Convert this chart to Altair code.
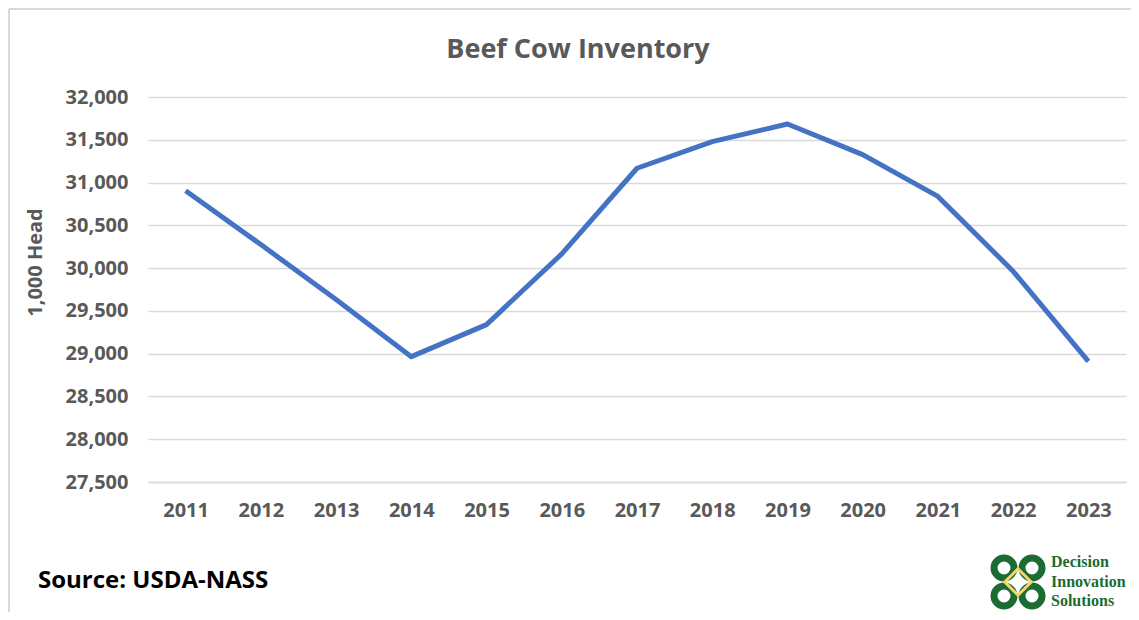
import altair as alt
import pandas as pd

years = ["2011", "2012", "2013", "2014", "2015", "2016", "2017",
         "2018", "2019", "2020", "2021", "2022", "2023"]
inventory = [30905, 30275, 29632, 28965, 29340, 30166, 31167,
             31478, 31685, 31326, 30838, 29963, 28911]
y_ticks = [27500, 28000, 28500, 29000, 29500, 30000, 30500,
           31000, 31500, 32000]

title_text = "Beef Cow Inventory"
y_title = "1,000 Head"
source_text = "Source: USDA-NASS"
logo_lines = ["Decision", "Innovation", "Solutions"]

df = pd.DataFrame({"Year": years, "Inventory": inventory})
one = pd.DataFrame({"k": [0]})

W, H = 978, 385
GRAY = "#595959"
GREEN = "#1b6b32"
FONT = "Open Sans"

line = alt.Chart(df).mark_line(color="#4472C4", strokeWidth=5, strokeJoin="round").encode(
    x=alt.X("Year:O", sort=years,
            scale=alt.Scale(padding=0.5),
            axis=alt.Axis(title=None, labelAngle=0, labelFont=FONT, labelFontSize=20,
                          labelFontWeight="bold", labelColor=GRAY, labelPadding=18,
                          ticks=False, domain=True, domainColor="#d9d9d9",
                          domainWidth=1.5, grid=False)),
    y=alt.Y("Inventory:Q",
            scale=alt.Scale(domain=[27500, 32000], nice=False, zero=False),
            axis=alt.Axis(values=y_ticks, format=",d", title=y_title,
                          titleFont=FONT, titleFontSize=20, titleFontWeight="bold",
                          titleColor=GRAY, titleAngle=270, titleX=-113, titleY=165,
                          titleAlign="center", titleBaseline="middle",
                          labelFont=FONT, labelFontSize=20, labelFontWeight="bold",
                          labelColor=GRAY, labelPadding=20, ticks=False, domain=False,
                          grid=True, gridColor="#d9d9d9", gridWidth=1.5)),
)

title = alt.Chart(one).mark_text(
    text=title_text, font=FONT, fontSize=27, fontWeight="bold", color=GRAY,
    align="center", baseline="alphabetic"
).encode(x=alt.value(430), y=alt.value(-39))

source = alt.Chart(one).mark_text(
    text=source_text, font=FONT, fontSize=24, fontWeight="bold", color="#000000",
    align="left", baseline="alphabetic"
).encode(x=alt.value(-110), y=alt.value(491))

logo_text_layers = []
for i, t in enumerate(logo_lines):
    logo_text_layers.append(
        alt.Chart(one).mark_text(
            text=t, font="Liberation Serif", fontSize=16, fontWeight="bold",
            color=GREEN, align="left", baseline="alphabetic"
        ).encode(x=alt.value(903), y=alt.value(470 + i * 19.5))
    )

ring_layers = []
for (dx, dy) in [(-14, -14), (14, -14), (-14, 14), (14, 14)]:
    ring_layers.append(
        alt.Chart(one).mark_point(shape="circle", filled=False, size=400,
                                  stroke=GREEN, strokeWidth=7, opacity=1).encode(
            x=alt.value(870 + dx), y=alt.value(485 + dy))
    )
ring_layers.append(
    alt.Chart(one).mark_point(shape="diamond", filled=False, size=700,
                              stroke="#f2d66b", strokeWidth=3, opacity=1).encode(
        x=alt.value(870), y=alt.value(485))
)

border_top = alt.Chart(one).mark_rule(color="#d9d9d9", strokeWidth=2).encode(
    x=alt.value(-139), x2=alt.value(W + 5), y=alt.value(-88))
border_left = alt.Chart(one).mark_rule(color="#d9d9d9", strokeWidth=2).encode(
    x=alt.value(-139), y=alt.value(-88), y2=alt.value(H + 130))

chart = alt.layer(
    border_top, border_left, line, title, source, *ring_layers, *logo_text_layers
).properties(
    width=W, height=H,
    autosize=alt.AutoSizeParams(type="none"),
    padding={"left": 140, "top": 89, "right": 5, "bottom": 130},
    background="white",
).configure_view(stroke=None)

chart.save("out.html", embed_options={"renderer": "svg", "actions": False})
